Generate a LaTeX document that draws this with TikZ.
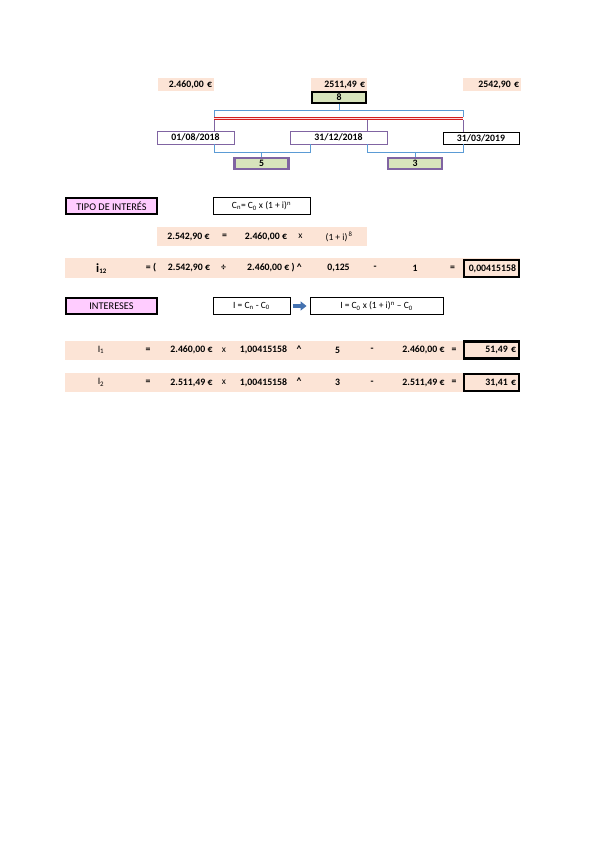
\documentclass[tikz,border=0pt]{standalone}
\usepackage{fontspec}
\setmainfont{Carlito}
\usetikzlibrary{arrows.meta,calc,positioning}
\definecolor{peach}{RGB}{252,228,214}
\definecolor{cellgreen}{RGB}{216,228,188}
\definecolor{cellpink}{RGB}{255,204,255}
\definecolor{brblue}{RGB}{91,155,213}
\definecolor{brpurple}{RGB}{128,100,162}
\definecolor{lnred}{RGB}{210,30,30}
\definecolor{arrblue}{RGB}{68,114,176}

\begin{document}
\begin{tikzpicture}[x=1pt,y=-1pt,
  every node/.style={font=\fontsize{9.8}{11}\selectfont\bfseries, inner sep=0pt},
  amount/.style={fill=peach, minimum height=13pt, inner xsep=2pt, text width=#1, align=right},
  greenbox/.style={draw=#1, line width=2.2pt, fill=cellgreen, minimum width=54pt, minimum height=11pt},
  datebox/.style={draw=#1, line width=0.9pt, fill=white, minimum height=13pt},
  headbox/.style={draw, line width=2.2pt, fill=cellpink, minimum width=91pt, minimum height=16pt, font=\fontsize{10.3}{11}\selectfont},
  formbox/.style={draw, line width=0.9pt, minimum height=17pt, font=\fontsize{9.5}{11}\selectfont},
  rowfill/.style={fill=peach, minimum width=455pt, minimum height=19pt},
  resbox/.style={draw, line width=2.2pt, fill=peach, minimum height=17pt, inner xsep=3pt, text width=49pt, align=right},
  bracket/.style={brblue, line width=0.9pt},
  link/.style={brpurple, line width=0.9pt}
]
\useasboundingbox (0,0) rectangle (599,848);

% amounts over the time line
\node[amount=52pt] (amtA) at (186,84.5) {2.460,00 €};
\node[amount=52pt] (amtB) at (339,84.5) {2511,49 €};
\node[amount=54pt] (amtC) at (492,84.5) {2542,90 €};
\node[greenbox=black] (n8) at (339,97.5) {8};

% time line
\coordinate (rl) at (214,118.5);
\coordinate (rm) at (367,118.5);
\coordinate (rr) at (463,118.5);
\coordinate (bl) at (214,110);
\coordinate (br) at (463,110);
\draw[lnred, double=pink!60, double distance=1pt, line width=0.9pt] (rl) -- (rr);
\draw[bracket] ([yshift=1.5pt]rl) -- (bl) -- (br) -- ([yshift=1.5pt]rr);
\draw[bracket] (n8.south) -- (n8.south |- bl);

\node[datebox=brpurple, minimum width=77pt] (d1) at (195.5,137.5) {01/08/2018};
\node[datebox=brpurple, minimum width=97pt] (d2) at (338.5,137.5) {31/12/2018};
\node[datebox=black, minimum width=76pt, minimum height=12pt] (d3) at (481,138) {31/03/2019};
\draw[link] ([yshift=-1.5pt]rl) -- (d1.north -| rl);
\draw[link] ([yshift=-1.5pt]rm) -- (d2.north -| rm);
\draw[link] ([yshift=-1.5pt]rr) -- (d3.north -| rr);

% periods
\node[greenbox=brpurple] (n5) at (261.5,163.5) {5};
\node[greenbox=brpurple] (n3) at (415,163.5) {3};
\coordinate (la) at (214,152);
\coordinate (lb) at (310,152);
\coordinate (ra) at (367,152);
\coordinate (rb) at (463,152);
\draw[bracket] (d1.south -| la) -- (la) -- (lb) -- (d2.south -| lb);
\draw[bracket] (n5.north) -- (n5.north |- la);
\draw[bracket] (d2.south -| ra) -- (ra) -- (rb) -- (d3.south -| rb);
\draw[bracket] (n3.north) -- (n3.north |- ra);

% tipo de interes
\node[headbox] (tipo) at (111.5,206) {TIPO DE INTERÉS};
\node[formbox, minimum width=97pt] (fCn) at (261.5,206) {C\textsubscript{n}= C\textsubscript{0} x (1 + i)\textsuperscript{n}};

\node[fill=peach, minimum width=210pt, minimum height=19pt] (row1) at (262,236.5) {};
\node (r1a) at (188.5,236.5) {2.542,90 €};
\node (r1b) at (224.5,236.5) {=};
\node (r1c) at (266,236.5) {2.460,00 €};
\node[font=\fontsize{9.5}{11}\selectfont] (r1d) at (300.5,236.5) {x};
\node[font=\fontsize{9.5}{11}\selectfont] (r1e) at (339,236.5) {(1 + i)\textsuperscript{\,8}};

\node[rowfill, minimum height=20pt] (row2) at (292.5,268) {};
\node (r2a) at (101.5,268.5) {{\fontsize{12.5}{12}\selectfont i}\textsubscript{12}};
\node (r2b) at (151,268) {= (};
\node (r2c) at (189,268) {2.542,90 €};
\node (r2d) at (223.5,268) {÷};
\node[anchor=west] (r2e) at (247,268) {2.460,00 € ) \^{}};
\node (r2f) at (338.5,268) {0,125};
\node (r2g) at (375,268) {-};
\node (r2h) at (415,268) {1};
\node (r2i) at (452.5,268) {=};
\node[resbox] (res) at (491.5,268.5) {0,00415158};

% intereses
\node[headbox] (inter) at (111.5,306) {INTERESES};
\node[formbox, minimum width=77pt] (fI1) at (251.5,306) {I = C\textsubscript{n} - C\textsubscript{0}};
\node[formbox, minimum width=133pt] (fI2) at (376.5,306) {I = C\textsubscript{0} x (1 + i)\textsuperscript{n} -- C\textsubscript{0}};
\draw[-{Triangle[length=6pt,width=9pt]}, line width=3.5pt, arrblue] ([xshift=2.5pt]fI1.east) -- ([xshift=-3pt]fI2.west);

\node[rowfill] (row3) at (292.5,350) {};
\node[font=\fontsize{9.8}{11}\selectfont] (r3a) at (101,350) {I\textsubscript{1}};
\node (r3b) at (148,350) {=};
\node (r3c) at (191.5,350) {2.460,00 €};
\node[font=\fontsize{9.5}{11}\selectfont] (r3d) at (224,350) {x};
\node (r3e) at (263.5,350) {1,00415158};
\node (r3f) at (299,349) {\^{}};
\node (r3g) at (337.5,350) {5};
\node (r3h) at (372,350) {-};
\node (r3i) at (423.5,350) {2.460,00 €};
\node (r3j) at (454,350) {=};
\node[resbox] (res1) at (491.5,350) {51,49 €};

\node[rowfill] (row4) at (292.5,382.5) {};
\node[font=\fontsize{9.8}{11}\selectfont] (r4a) at (101,382.5) {I\textsubscript{2}};
\node (r4b) at (148,382.5) {=};
\node (r4c) at (191.5,382.5) {2.511,49 €};
\node[font=\fontsize{9.5}{11}\selectfont] (r4d) at (224,382.5) {x};
\node (r4e) at (263.5,382.5) {1,00415158};
\node (r4f) at (299,381.5) {\^{}};
\node (r4g) at (337.5,382.5) {3};
\node (r4h) at (372,382.5) {-};
\node (r4i) at (423.5,382.5) {2.511,49 €};
\node (r4j) at (454,382.5) {=};
\node[resbox] (res2) at (491.5,382.5) {31,41 €};
\end{tikzpicture}
\end{document}
